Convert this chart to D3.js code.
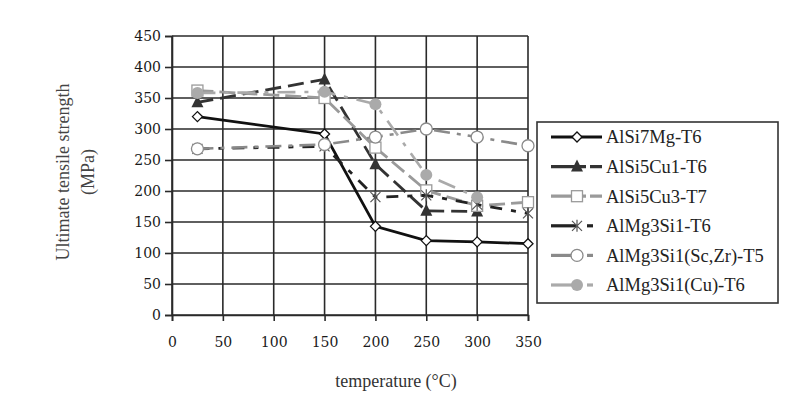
<!DOCTYPE html>
<html><head><meta charset="utf-8">
<script src="https://cdn.jsdelivr.net/npm/d3@7"></script>
<style>body{margin:0;background:#fff}svg{display:block}</style>
</head><body>
<svg id="c" width="793" height="399"></svg>
<script>
const temps = [25,150,200,250,300,350];
const xTicks = [0,50,100,150,200,250,300,350];
const yTicks = [0,50,100,150,200,250,300,350,400,450];
const seriesNames = ["AlSi7Mg-T6","AlSi5Cu1-T6","AlSi5Cu3-T7","AlMg3Si1-T6","AlMg3Si1(Sc,Zr)-T5","AlMg3Si1(Cu)-T6"];
const alsi7mg  = [320,292,143,120,118,115];
const alsi5cu1 = [343,380,243,168,167,null];
const alsi5cu3 = [362,350,270,201,176,182];
const almg3si1 = [268,272,190,193,178,164];
const almgsczr = [268,275,287,300,287,273];
const almgcu   = [358,360,340,226,190,null];

const styles = [
  {color:"#111", dash:null, marker:"diamond", w:2.8},
  {color:"#333", dash:"16,7", marker:"triangle", w:2.8},
  {color:"#9a9a9a", dash:"16,6", marker:"square", w:2.8},
  {color:"#222", dash:"12,9,5,9", marker:"cross", w:2.8},
  {color:"#8a8a8a", dash:"16,7,4,7", marker:"circle", w:2.6},
  {color:"#aaa", dash:"18,9,4,9", marker:"dot", w:2.6}
];
const allSeries = [alsi7mg, alsi5cu1, alsi5cu3, almg3si1, almgsczr, almgcu];

const svg = d3.select("#c");
const x = d3.scaleLinear().domain([0,350]).range([172,528]);
const y = d3.scaleLinear().domain([0,450]).range([315,36]);
const serif = "Liberation Serif, Times New Roman, serif";
const tickFont = "DejaVu Serif, serif";

svg.append("g").selectAll("line").data(yTicks).join("line")
  .attr("x1",x(0)).attr("x2",x(350)).attr("y1",d=>y(d)).attr("y2",d=>y(d))
  .attr("stroke","#2a2a2a").attr("stroke-width",1.6);
svg.append("g").selectAll("line").data(xTicks).join("line")
  .attr("y1",y(0)).attr("y2",y(450)).attr("x1",d=>x(d)).attr("x2",d=>x(d))
  .attr("stroke","#2a2a2a").attr("stroke-width",1.6);

const yAxis = svg.append("g").attr("transform",`translate(${x(0)},0)`)
  .call(d3.axisLeft(y).tickValues(yTicks).tickSize(7).tickPadding(4));
const xAxis = svg.append("g").attr("transform",`translate(0,${y(0)})`)
  .call(d3.axisBottom(x).tickValues(xTicks).tickSize(6).tickPadding(16));
[yAxis,xAxis].forEach(a=>{
  a.select(".domain").attr("stroke","#2a2a2a").attr("stroke-width",1.6);
  a.selectAll(".tick line").attr("stroke","#2a2a2a").attr("stroke-width",1.6);
  a.selectAll("text").attr("font-family",tickFont).attr("font-size",14).attr("fill","#1a1a1a");
});

function drawMarker(g, type, cx, cy, st){
  const s = st.color;
  if(type==="diamond"){
    g.append("path").attr("d",`M${cx-5},${cy}L${cx},${cy-5}L${cx+5},${cy}L${cx},${cy+5}Z`)
      .attr("fill","#fff").attr("stroke",s).attr("stroke-width",1.3);
  } else if(type==="triangle"){
    g.append("path").attr("d",`M${cx},${cy-7}L${cx+6},${cy+5}L${cx-6},${cy+5}Z`).attr("fill",s);
  } else if(type==="square"){
    g.append("rect").attr("x",cx-5.5).attr("y",cy-5.5).attr("width",11).attr("height",11)
      .attr("fill","#fff").attr("stroke",s).attr("stroke-width",1.3);
  } else if(type==="cross"){
    g.append("path").attr("d",`M${cx-5},${cy-5}L${cx+5},${cy+5}M${cx-5},${cy+5}L${cx+5},${cy-5}M${cx},${cy-6}L${cx},${cy+6}`)
      .attr("stroke","#555").attr("stroke-width",1.2).attr("fill","none");
  } else if(type==="circle"){
    g.append("circle").attr("cx",cx).attr("cy",cy).attr("r",6)
      .attr("fill","#fff").attr("stroke",s).attr("stroke-width",1.3);
  } else if(type==="dot"){
    g.append("circle").attr("cx",cx).attr("cy",cy).attr("r",6).attr("fill",s);
  }
}

const line = d3.line().defined(d=>d[1]!=null).x(d=>x(d[0])).y(d=>y(d[1]));
allSeries.forEach((vals,i)=>{
  const st = styles[i];
  const pts = temps.map((t,j)=>[t,vals[j]]);
  const g = svg.append("g");
  g.append("path").attr("d",line(pts)).attr("fill","none").attr("stroke",st.color)
    .attr("stroke-width",st.w).attr("stroke-dasharray",st.dash);
  pts.filter(p=>p[1]!=null).forEach(p=>drawMarker(g, st.marker, x(p[0]), y(p[1]), st));
});

svg.append("text").attr("x",396).attr("y",387).attr("text-anchor","middle")
  .attr("font-family",serif).attr("font-size",18).attr("fill","#333").text("temperature (°C)");
svg.append("text").attr("transform","translate(69,172) rotate(-90)").attr("text-anchor","middle")
  .attr("font-family",serif).attr("font-size",18).attr("fill","#444").text("Ultimate tensile strength");
svg.append("text").attr("transform","translate(94,172) rotate(-90)").attr("text-anchor","middle")
  .attr("font-family",serif).attr("font-size",18).attr("fill","#444").text("(MPa)");

const lg = svg.append("g");
lg.append("rect").attr("x",537).attr("y",122).attr("width",241).attr("height",181)
  .attr("fill","#fff").attr("stroke","#333").attr("stroke-width",1.6);
const ly = d3.scalePoint().domain(seriesNames).range([137,285]);
seriesNames.forEach((n,i)=>{
  const st = styles[i];
  const yy = ly(n);
  const g = lg.append("g");
  if(i<3){
    g.append("line").attr("x1",551).attr("x2",602).attr("y1",yy).attr("y2",yy)
      .attr("stroke",st.color).attr("stroke-width",3.2);
    if(i>0) g.append("line").attr("x1",586).attr("x2",590).attr("y1",yy).attr("y2",yy).attr("stroke","#fff").attr("stroke-width",5);
  } else {
    g.append("line").attr("x1",551).attr("x2",576).attr("y1",yy).attr("y2",yy)
      .attr("stroke",st.color).attr("stroke-width",3.2);
    g.append("line").attr("x1",587).attr("x2",593).attr("y1",yy).attr("y2",yy)
      .attr("stroke",st.color).attr("stroke-width",3.2);
  }
  drawMarker(g, st.marker, 577, yy, st);
  g.append("text").attr("x",606).attr("y",yy).attr("dy","0.35em")
    .attr("font-family",serif).attr("font-size",18.5).attr("fill","#222").text(n);
});
</script>
</body></html>
